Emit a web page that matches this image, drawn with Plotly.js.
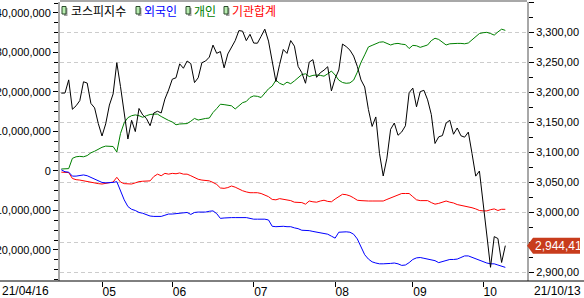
<!DOCTYPE html>
<html><head><meta charset="utf-8">
<script src="https://cdn.plot.ly/plotly-3.0.1.min.js"></script>
<style>html,body{margin:0;padding:0;background:#fff;overflow:hidden}#chart{width:584px;height:298px}</style>
</head><body><div id="chart"></div>
<script>
// trading days (MM/DD, 2021)
const dates = [
'04/16','04/19','04/20','04/21','04/22','04/23','04/26','04/27','04/28','04/29','04/30',
'05/03','05/04','05/06','05/07','05/10','05/11','05/12','05/13','05/14','05/17','05/18','05/20','05/21','05/24','05/25','05/26','05/27','05/28','05/31',
'06/01','06/02','06/03','06/04','06/07','06/08','06/09','06/10','06/11','06/14','06/15','06/16','06/17','06/18','06/21','06/22','06/23','06/24','06/25','06/28','06/29','06/30',
'07/01','07/02','07/05','07/06','07/07','07/08','07/09','07/12','07/13','07/14','07/15','07/16','07/19','07/20','07/21','07/22','07/23','07/26','07/27','07/28','07/29','07/30',
'08/02','08/03','08/04','08/05','08/06','08/09','08/10','08/11','08/12','08/13','08/17','08/18','08/19','08/20','08/23','08/24','08/25','08/26','08/27','08/30','08/31',
'09/01','09/02','09/03','09/06','09/07','09/08','09/09','09/10','09/13','09/14','09/15','09/16','09/17','09/23','09/24','09/27','09/28','09/29','09/30',
'10/01','10/05','10/06','10/07','10/08','10/12','10/13'];

// KOSPI index (right axis)
const kospi = [
3198.62,3198.84,3220.70,3171.66,3177.52,3186.10,3217.53,3215.42,3181.47,3174.07,
3147.86,3127.20,3147.37,3178.74,3197.20,3249.30,3209.43,3161.66,3122.11,3153.32,
3134.52,3173.05,3162.28,3156.42,3144.30,3165.51,3168.43,3165.51,3188.73,3203.92,
3221.87,3224.23,3247.43,3240.08,3252.12,3247.83,3216.18,3224.20,3249.32,3252.13,
3258.63,3278.68,3264.96,3267.93,3240.79,3263.88,3276.19,3286.10,3302.84,3301.89,
3286.10,3296.68,3282.06,3281.78,3293.21,3305.21,3285.34,3252.68,3217.95,3246.47,
3271.38,3264.81,3286.22,3276.91,3243.19,3232.70,3215.06,3250.21,3254.42,3224.95,
3232.61,3236.86,3242.65,3202.32,3223.04,3237.14,3280.38,3276.13,3270.36,3260.42,
3243.19,3220.62,3208.78,3171.29,3143.09,3158.93,3097.83,3060.51,3090.21,3138.30,
3148.81,3128.41,3133.90,3144.19,3199.27,3207.02,3175.85,3201.06,3203.33,3187.42,
3162.99,3114.70,3125.76,3127.86,3148.83,3153.40,3130.09,3140.51,3127.58,3125.24,
3133.64,3097.92,3060.27,3068.82,3019.18,2962.17,2908.31,2959.46,2956.30,2916.38,
2944.41];

// cumulative net buying, in millions (left axis)
const individual = [
0.5,0.5,0.6,3.2,3.6,3.7,3.6,3.9,4.6,5.0,
5.6,6.0,6.3,6.3,6.2,4.8,9.5,12.2,13.5,14.0,
14.2,14.0,13.6,14.0,14.3,14.4,14.4,13.8,13.2,12.8,
12.4,11.7,11.9,12.0,12.0,12.6,13.3,12.9,13.2,13.3,
13.4,14.8,15.8,16.9,16.8,16.7,16.5,15.7,16.4,17.3,
17.6,18.6,19.0,18.9,18.6,19.8,20.8,21.5,23.0,22.2,
21.8,22.5,22.1,22.8,23.6,24.4,24.6,23.9,24.2,24.3,
24.2,24.0,24.6,25.3,24.3,23.0,22.4,22.2,22.3,23.0,
25.0,27.5,29.4,31.4,31.8,32.2,32.6,32.7,32.3,31.9,
32.2,32.3,32.1,32.0,31.0,31.8,31.7,31.3,31.6,31.9,
33.0,33.6,33.3,32.7,31.9,32.2,32.3,32.3,32.3,32.2,
32.4,33.2,34.0,34.8,35.0,35.1,34.8,34.4,35.2,35.9,
35.6];
const foreign = [
0.3,-0.2,-0.3,-1.3,-1.3,-1.2,-1.0,-1.2,-1.6,-2.0,
-2.3,-2.9,-3.0,-3.0,-2.9,-2.7,-5.0,-7.3,-9.0,-9.7,
-10.0,-10.5,-10.7,-11.0,-11.4,-11.5,-11.5,-11.5,-11.2,-10.9,
-10.9,-10.8,-10.7,-10.6,-10.5,-11.0,-10.5,-10.4,-10.4,-10.4,
-10.2,-10.1,-10.8,-12.0,-11.9,-11.8,-11.8,-11.8,-11.8,-11.8,
-11.8,-12.0,-12.2,-12.2,-12.2,-12.2,-12.4,-14.0,-14.1,-14.0,
-14.0,-14.1,-14.1,-14.4,-14.6,-15.0,-15.0,-15.1,-15.3,-15.5,
-15.7,-15.8,-16.0,-16.5,-17.0,-15.5,-15.4,-15.4,-15.5,-16.0,
-17.2,-19.2,-21.2,-22.3,-23.0,-23.3,-23.5,-23.5,-23.5,-23.4,
-23.3,-23.5,-23.9,-23.8,-23.2,-22.4,-22.0,-21.9,-22.1,-22.3,
-22.5,-22.7,-23.2,-22.9,-22.5,-22.4,-22.4,-22.3,-21.9,-21.5,
-21.5,-21.9,-22.3,-22.6,-23.0,-23.3,-23.5,-23.5,-23.8,-24.1,
-24.4];
const institution = [
-0.3,-0.3,-0.4,-1.9,-2.2,-2.3,-2.5,-2.6,-2.9,-3.0,
-3.2,-3.3,-3.1,-3.0,-2.8,-1.6,-2.8,-3.2,-3.2,-3.3,
-3.0,-2.7,-2.6,-2.5,-2.5,-1.4,-0.8,-1.2,-0.6,-0.8,
-0.6,-0.7,-0.5,-0.8,-0.8,-1.2,-1.7,-2.1,-2.3,-2.4,
-2.5,-2.9,-3.4,-4.3,-4.4,-4.2,-3.8,-4.1,-4.6,-5.0,
-5.3,-5.5,-5.5,-5.5,-5.7,-6.0,-6.5,-7.2,-7.3,-7.0,
-7.2,-7.3,-7.5,-7.9,-8.0,-8.0,-8.4,-7.6,-7.8,-7.9,
-7.6,-7.4,-7.7,-7.8,-7.1,-6.5,-5.9,-6.0,-6.3,-6.8,
-7.4,-7.5,-7.6,-7.6,-7.6,-7.6,-7.6,-7.6,-7.2,-6.8,
-6.6,-6.2,-5.7,-5.7,-5.7,-6.5,-7.3,-7.5,-7.5,-7.5,
-8.0,-8.4,-8.2,-7.9,-7.6,-7.9,-8.1,-8.5,-8.7,-8.9,
-9.0,-9.3,-9.6,-10.0,-10.1,-10.1,-9.8,-9.6,-10.0,-9.7,
-9.7];

const monthTicks = ['05/03','06/01','07/01','08/02','09/01','10/01'];
const monthLabels = ['05','06','07','08','09','10'];
const seriesNames = ['코스피지수','외국인','개인','기관합계'];
const seriesColors = ['#000000','#0000ff','#008000','#ff0000'];
const startLabel = '21/04/16';
const endLabel = '21/10/13';

const MIL = 1e6;
const L = 60, R = 527, T = 2, B = 281;
const px = x => (x - L) / (R - L);
const py = y => 1 - (y - T) / (B - T);
const tickFont = {family: 'Liberation Sans, Arial, sans-serif', size: 11, color: '#000'};
const korFont = {family: 'Noto Sans CJK KR, sans-serif', size: 12};

function fmtKR(v) {
  const s = v.toFixed(2).split('.');
  return s[0].replace(/\B(?=(\d{3})+(?!\d))/g, ',') + ',' + s[1];
}

const traces = [
  {x: dates, y: individual.map(v => v * MIL), yaxis: 'y', type: 'scatter', mode: 'lines', line: {color: seriesColors[2], width: 1}, name: seriesNames[2]},
  {x: dates, y: institution.map(v => v * MIL), yaxis: 'y', type: 'scatter', mode: 'lines', line: {color: seriesColors[3], width: 1}, name: seriesNames[3]},
  {x: dates, y: foreign.map(v => v * MIL), yaxis: 'y', type: 'scatter', mode: 'lines', line: {color: seriesColors[1], width: 1}, name: seriesNames[1]},
  {x: dates, y: kospi, yaxis: 'y2', type: 'scatter', mode: 'lines', line: {color: seriesColors[0], width: 1}, name: seriesNames[0]}
];

const shapes = [
  {type: 'line', xref: 'paper', yref: 'paper', x0: px(60), x1: px(527), y0: py(1), y1: py(1), line: {color: '#a8a8a8', width: 2}},
  {type: 'line', xref: 'paper', yref: 'paper', x0: px(0), x1: px(584), y0: py(281), y1: py(281), line: {color: '#000', width: 1}}
];
const iconX = [62, 136, 186, 224];
const textX = [70, 143, 193, 231];
const annotations = [];
for (let i = 0; i < 4; i++) {
  shapes.push({type: 'rect', xref: 'paper', yref: 'paper', x0: px(iconX[i] + 2), x1: px(iconX[i] + 5.5), y0: py(16), y1: py(8), fillcolor: '#a0a0a0', line: {width: 0}});
  shapes.push({type: 'rect', xref: 'paper', yref: 'paper', x0: px(iconX[i]), x1: px(iconX[i] + 4), y0: py(14), y1: py(6.5), fillcolor: '#b8ecb0', line: {color: '#2a4a2a', width: 1}});
  annotations.push({xref: 'paper', yref: 'paper', x: px(textX[i]), y: py(10.5), xanchor: 'left', yanchor: 'middle', showarrow: false, text: seriesNames[i], font: Object.assign({}, korFont, {color: seriesColors[i]}), borderpad: 0});
}
const last = kospi[kospi.length - 1];
const halfH = 8 / 0.6;
shapes.push({type: 'path', xref: 'paper', yref: 'y2',
  path: `M ${px(527)},${last} L ${px(533)},${last + halfH} L ${px(580)},${last + halfH} L ${px(580)},${last - halfH} L ${px(533)},${last - halfH} Z`,
  fillcolor: '#c83c1c', line: {width: 0}});
annotations.push({xref: 'paper', yref: 'y2', x: px(534), y: last, xanchor: 'left', yanchor: 'middle', showarrow: false, text: fmtKR(last), font: Object.assign({}, tickFont, {color: '#fff', size: 12}), borderpad: 0});
annotations.push({xref: 'paper', yref: 'paper', x: px(1), y: py(291), xanchor: 'left', yanchor: 'middle', showarrow: false, text: startLabel, font: Object.assign({}, tickFont, {size: 12}), borderpad: 0});
annotations.push({xref: 'paper', yref: 'paper', x: px(533), y: py(291), xanchor: 'left', yanchor: 'middle', showarrow: false, text: endLabel, font: Object.assign({}, tickFont, {size: 12}), borderpad: 0});

const layout = {
  width: 584, height: 298,
  margin: {l: L, r: 584 - R, t: T, b: 298 - B, pad: 0},
  paper_bgcolor: '#fff', plot_bgcolor: '#fff',
  showlegend: false,
  separators: ',,',
  xaxis: {
    type: 'category', categoryorder: 'array', categoryarray: dates,
    range: [-0.35, 125.86],
    tickmode: 'array', tickvals: monthTicks, ticktext: monthLabels,
    ticks: 'outside', ticklen: 5, tickcolor: '#000', tickwidth: 1,
    ticklabelposition: 'outside right',
    showline: false, showgrid: false, zeroline: false,
    tickfont: Object.assign({}, tickFont, {size: 12})
  },
  yaxis: {
    side: 'left', range: [-27.85 * MIL, 42.78 * MIL],
    tickmode: 'linear', tick0: 0, dtick: 10 * MIL, tickformat: ',d',
    ticks: 'outside', ticklen: 5, tickcolor: '#000',
    minor: {dtick: 2.5 * MIL, tick0: 0, ticks: 'outside', ticklen: 4, tickcolor: '#000', showgrid: false},
    showline: true, linecolor: '#a8a8a8', linewidth: 2,
    showgrid: false, zeroline: false, tickfont: tickFont
  },
  yaxis2: {
    overlaying: 'y', side: 'right', range: [2885.5, 3350.5],
    tickmode: 'linear', tick0: 2900, dtick: 50, tickformat: ',.2f',
    ticks: 'outside', ticklen: 5, tickcolor: '#000',
    minor: {dtick: 25, tick0: 2900, ticks: 'outside', ticklen: 4, tickcolor: '#000', showgrid: false},
    showline: true, linecolor: '#a8a8a8', linewidth: 2,
    showgrid: true, gridcolor: '#cccccc', gridwidth: 1, griddash: '4px,3px',
    zeroline: false, tickfont: tickFont
  },
  shapes: shapes,
  annotations: annotations
};
Plotly.newPlot('chart', traces, layout, {staticPlot: true, displayModeBar: false});
</script></body></html>
